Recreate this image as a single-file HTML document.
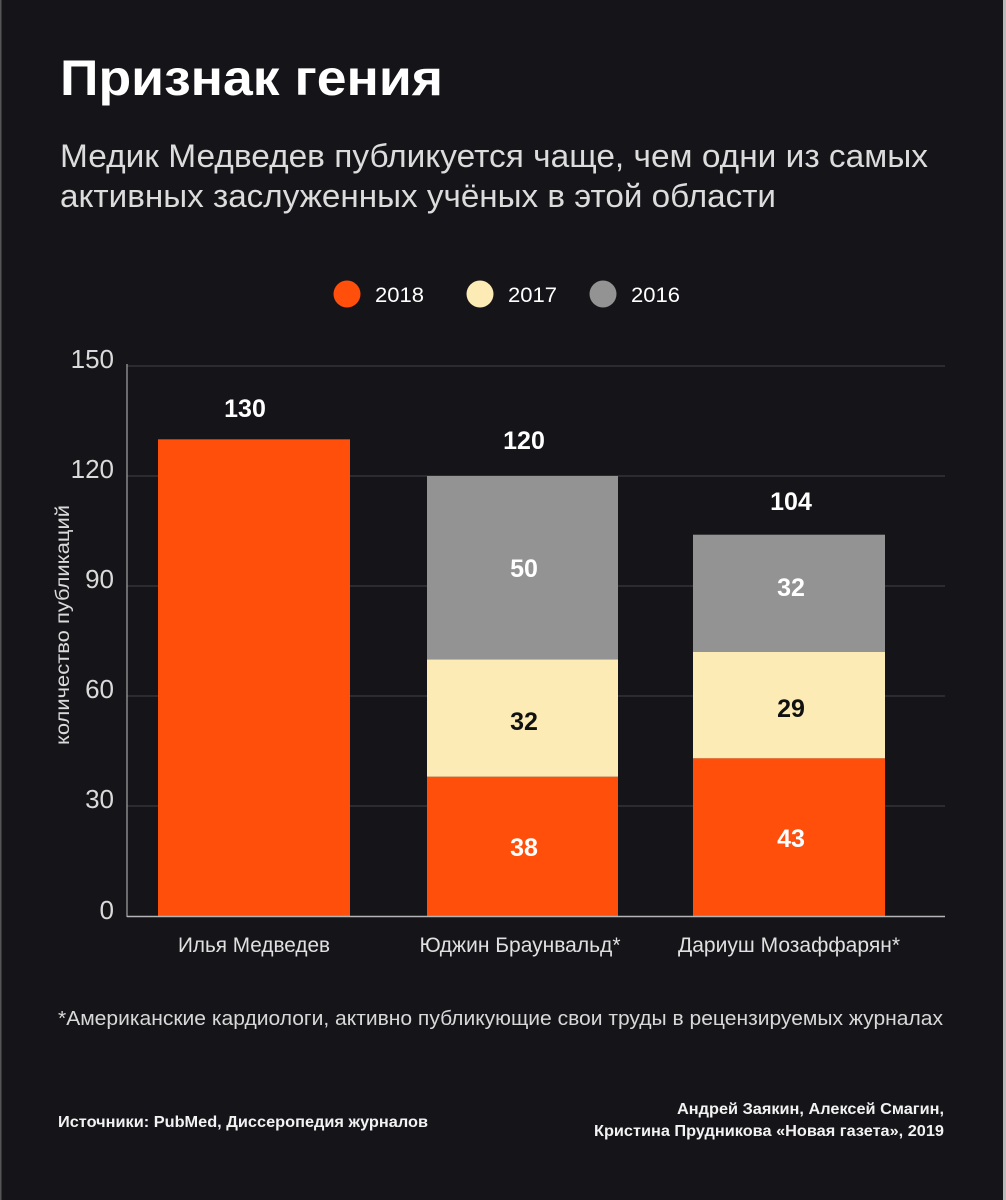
<!DOCTYPE html>
<html><head><meta charset="utf-8"><style>
html,body{margin:0;padding:0;background:#151418;}
svg{display:block;}
text{font-family:"Liberation Sans",sans-serif;}
</style></head><body>
<svg width="1006" height="1200" viewBox="0 0 1006 1200" xmlns="http://www.w3.org/2000/svg">
<rect x="0" y="0" width="1006" height="1200" fill="#151418"/>
<rect x="0" y="0" width="1.5" height="1200" fill="#555"/>
<rect x="1003" y="0" width="3" height="1200" fill="#bbb"/>

<text x="60" y="95" font-size="50" font-weight="bold" fill="#ffffff" textLength="383" lengthAdjust="spacingAndGlyphs">Признак гения</text>
<text x="60" y="167" font-size="32" fill="#dcdcdc" textLength="868" lengthAdjust="spacingAndGlyphs">Медик Медведев публикуется чаще, чем одни из самых</text>
<text x="60" y="207" font-size="32" fill="#dcdcdc" textLength="716" lengthAdjust="spacingAndGlyphs">активных заслуженных учёных в этой области</text>

<!-- legend -->
<circle cx="347" cy="294" r="13.5" fill="#ff4f0b"/>
<text x="375" y="302" font-size="21" fill="#fff" textLength="49" lengthAdjust="spacingAndGlyphs">2018</text>
<circle cx="480" cy="294" r="13.5" fill="#fdebb6"/>
<text x="508" y="302" font-size="21" fill="#fff" textLength="49" lengthAdjust="spacingAndGlyphs">2017</text>
<circle cx="603" cy="294" r="13.5" fill="#939393"/>
<text x="631" y="302" font-size="21" fill="#fff" textLength="49" lengthAdjust="spacingAndGlyphs">2016</text>

<!-- gridlines -->
<g stroke="#3b3b3f" stroke-width="1.2">
<line x1="127" y1="366" x2="945" y2="366"/>
<line x1="127" y1="476" x2="945" y2="476"/>
<line x1="127" y1="586" x2="945" y2="586"/>
<line x1="127" y1="696" x2="945" y2="696"/>
<line x1="127" y1="806" x2="945" y2="806"/>
</g>
<line x1="127" y1="364" x2="127" y2="917" stroke="#a5a5a5" stroke-width="1.2"/>

<!-- y ticks -->
<g font-size="26" fill="#dadada" text-anchor="end">
<text x="114" y="368">150</text>
<text x="114" y="478">120</text>
<text x="114" y="588">90</text>
<text x="114" y="698">60</text>
<text x="114" y="808">30</text>
<text x="114" y="919">0</text>
</g>
<text transform="translate(69,625) rotate(-90)" font-size="19" fill="#dadada" text-anchor="middle" textLength="240" lengthAdjust="spacingAndGlyphs">количество публикаций</text>

<!-- bars -->
<rect x="158" y="439.3" width="192" height="476.7" fill="#ff4f0b"/>

<rect x="427" y="776.7" width="191" height="139.3" fill="#ff4f0b"/>
<rect x="427" y="659.3" width="191" height="117.4" fill="#fdebb6"/>
<rect x="427" y="476" width="191" height="183.3" fill="#939393"/>

<rect x="693" y="758.3" width="192" height="157.7" fill="#ff4f0b"/>
<rect x="693" y="652" width="192" height="106.3" fill="#fdebb6"/>
<rect x="693" y="534.7" width="192" height="117.3" fill="#939393"/>

<line x1="127" y1="916.5" x2="945" y2="916.5" stroke="#b5b5b5" stroke-width="1.5"/>

<!-- value labels -->
<g font-size="25" font-weight="bold" text-anchor="middle">
<text x="245" y="417" fill="#fff">130</text>
<text x="524" y="449" fill="#fff">120</text>
<text x="791" y="510" fill="#fff">104</text>
<text x="524" y="577" fill="#fff">50</text>
<text x="524" y="730" fill="#111">32</text>
<text x="524" y="856" fill="#fff">38</text>
<text x="791" y="596" fill="#fff">32</text>
<text x="791" y="717" fill="#111">29</text>
<text x="791" y="847" fill="#fff">43</text>
</g>

<!-- x labels -->
<g font-size="21" fill="#e0e0e0" text-anchor="middle">
<text x="254" y="952" textLength="152" lengthAdjust="spacingAndGlyphs">Илья Медведев</text>
<text x="520" y="952" textLength="201" lengthAdjust="spacingAndGlyphs">Юджин Браунвальд*</text>
<text x="789" y="952" textLength="222" lengthAdjust="spacingAndGlyphs">Дариуш Мозаффарян*</text>
</g>

<text x="58" y="1025" font-size="20" fill="#d8d8d8" textLength="885" lengthAdjust="spacingAndGlyphs">*Американские кардиологи, активно публикующие свои труды в рецензируемых журналах</text>

<text x="58" y="1127" font-size="16" font-weight="bold" fill="#f2f2f2" textLength="370" lengthAdjust="spacingAndGlyphs">Источники: PubMed, Диссеропедия журналов</text>

<text x="944" y="1114" font-size="16" font-weight="bold" fill="#f2f2f2" text-anchor="end" textLength="267" lengthAdjust="spacingAndGlyphs">Андрей Заякин, Алексей Смагин,</text>
<text x="944" y="1136" font-size="16" font-weight="bold" fill="#f2f2f2" text-anchor="end" textLength="350" lengthAdjust="spacingAndGlyphs">Кристина Прудникова «Новая газета», 2019</text>
</svg>
</body></html>
